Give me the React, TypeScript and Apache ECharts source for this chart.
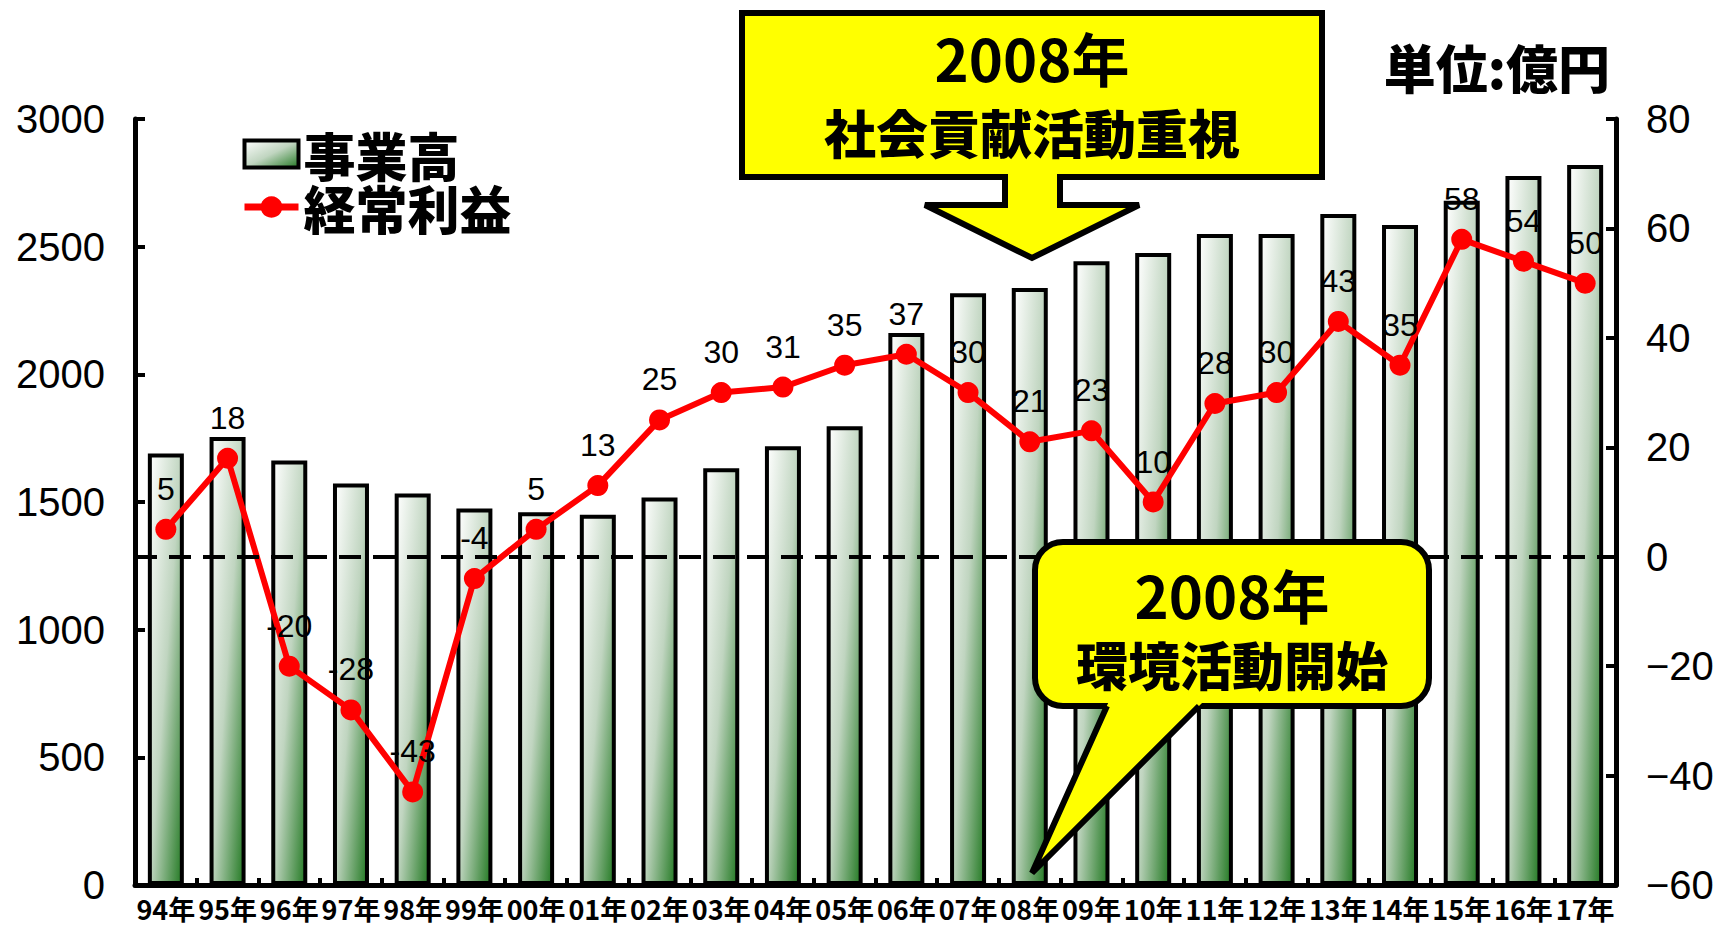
import React, { useEffect, useRef } from 'react';
import * as echarts from 'echarts';

const years = ['94年', '95年', '96年', '97年', '98年', '99年', '00年', '01年', '02年', '03年', '04年', '05年', '06年', '07年', '08年', '09年', '10年', '11年', '12年', '13年', '14年', '15年', '16年', '17年'];
const sales = [1690, 1755, 1663, 1572, 1533, 1475, 1460, 1450, 1518, 1632, 1718, 1797, 2162, 2318, 2338, 2443, 2475, 2550, 2550, 2628, 2585, 2680, 2777, 2820];
const profit = [5, 18, -20, -28, -43, -4, 5, 13, 25, 30, 31, 35, 37, 30, 21, 23, 10, 28, 30, 43, 35, 58, 54, 50];
const salesName = '事業高';
const profitName = '経常利益';
const leftMin = 0;
const leftMax = 3000;
const leftStep = 500;
const rightMin = -60;
const rightMax = 80;
const rightStep = 20;
const unitText = '単位:億円';
const topNote = ['2008年', '社会貢献活動重視'];
const bottomNote = ['2008年', '環境活動開始'];

const CJK = '"Noto Sans CJK JP", "Noto Sans", sans-serif';
const LAT = '"Liberation Sans", Arial, sans-serif';

export default function App() {
  const ref = useRef<HTMLDivElement>(null);
  useEffect(() => {
    const chart = echarts.init(ref.current!, null, { renderer: 'svg' });
    const barFill = new echarts.graphic.LinearGradient(0, 0, 1, 1, [
      { offset: 0, color: '#ffffff' },
      { offset: 0.5, color: '#c0d5c0' },
      { offset: 1, color: '#247a24' },
    ]);
    const yellow = '#ffff00';
    chart.setOption({
      animation: false,
      backgroundColor: '#ffffff',
      grid: { left: 135, right: 101, top: 119, bottom: 42, containLabel: false },
      legend: {
        orient: 'vertical',
        left: 241,
        top: 128,
        padding: 0,
        itemWidth: 54,
        itemHeight: 27,
        itemGap: 1,
        selectedMode: false,
        textStyle: { fontSize: 52, fontWeight: 900, fontFamily: CJK, color: '#000' },
        data: [
          { name: salesName, icon: 'rect', itemStyle: { borderColor: '#000', borderWidth: 4 } },
          { name: profitName, lineStyle: { width: 7, color: '#ff0000' }, itemStyle: { color: '#ff0000' } },
        ],
      },
      xAxis: {
        type: 'category',
        data: years,
        axisLine: { lineStyle: { color: '#000', width: 5 } },
        axisTick: { show: true, inside: true, length: 7, lineStyle: { color: '#000', width: 4 } },
        axisLabel: { interval: 0, fontSize: 27, fontWeight: 'bold', fontFamily: CJK, color: '#000', margin: 10 },
        splitLine: { show: false },
      },
      yAxis: [
        {
          type: 'value',
          min: leftMin,
          max: leftMax,
          interval: leftStep,
          axisLine: { show: true, lineStyle: { color: '#000', width: 5 } },
          axisTick: { show: true, inside: true, length: 10, lineStyle: { color: '#000', width: 4 } },
          axisLabel: { fontSize: 40, fontFamily: LAT, color: '#000', margin: 30, formatter: (v: number) => String(v) },
          splitLine: { show: false },
        },
        {
          type: 'value',
          position: 'right',
          min: rightMin,
          max: rightMax,
          interval: rightStep,
          axisLine: { show: true, lineStyle: { color: '#000', width: 5 } },
          axisTick: { show: true, inside: true, length: 10, lineStyle: { color: '#000', width: 4 } },
          axisLabel: {
            fontSize: 40,
            fontFamily: LAT,
            color: '#000',
            margin: 30,
            formatter: (v: number) => (v < 0 ? '\u2212' + Math.abs(v) : String(v)),
          },
          splitLine: { show: false },
        },
      ],
      series: [
        {
          name: salesName,
          type: 'bar',
          data: sales,
          barWidth: 36,
          itemStyle: { color: barFill, borderColor: '#000', borderWidth: 4 },
          emphasis: { disabled: true },
          z: 2,
        },
        {
          name: profitName,
          type: 'line',
          yAxisIndex: 1,
          data: profit,
          symbol: 'circle',
          symbolSize: 21,
          lineStyle: { color: '#ff0000', width: 6 },
          itemStyle: { color: '#ff0000' },
          label: { show: true, position: 'top', distance: 14, fontSize: 32, fontFamily: LAT, color: '#000' },
          emphasis: { disabled: true },
          markLine: {
            silent: true,
            symbol: ['none', 'none'],
            label: { show: false },
            lineStyle: { color: '#000', width: 4, type: [22, 12] },
            data: [{ yAxis: 0 }],
          },
          z: 3,
        },
      ],
      graphic: [
        {
          type: 'polygon',
          z: 100,
          shape: {
            points: [
              [742, 13], [1322, 13], [1322, 177], [1060, 177], [1060, 205], [1139, 205],
              [1032, 258], [925, 205], [1005, 205], [1005, 177], [742, 177],
            ],
          },
          style: { fill: yellow, stroke: '#000', lineWidth: 6, lineJoin: 'miter' },
        },
        {
          type: 'text', z: 101, x: 1032, y: 57,
          style: { text: topNote[0], fontSize: 58, fontWeight: 'bold', fontFamily: CJK, fill: '#000', align: 'center', verticalAlign: 'middle' },
        },
        {
          type: 'text', z: 101, x: 1032, y: 131,
          style: { text: topNote[1], fontSize: 52, fontWeight: 900, fontFamily: CJK, fill: '#000', align: 'center', verticalAlign: 'middle' },
        },
        {
          type: 'rect', z: 100,
          shape: { x: 1035, y: 542, width: 394, height: 164, r: 28 },
          style: { fill: yellow, stroke: '#000', lineWidth: 6 },
        },
        {
          type: 'polygon', z: 101,
          shape: { points: [[1114, 690], [1215, 690], [1032, 873]] },
          style: { fill: yellow, lineWidth: 0 },
        },
        {
          type: 'polyline', z: 102,
          shape: { points: [[1107, 706], [1032, 873], [1199, 706]] },
          style: { fill: null, stroke: '#000', lineWidth: 6, lineJoin: 'miter' },
        },
        {
          type: 'text', z: 103, x: 1232, y: 594,
          style: { text: bottomNote[0], fontSize: 58, fontWeight: 'bold', fontFamily: CJK, fill: '#000', align: 'center', verticalAlign: 'middle' },
        },
        {
          type: 'text', z: 103, x: 1232, y: 663,
          style: { text: bottomNote[1], fontSize: 52, fontWeight: 900, fontFamily: CJK, fill: '#000', align: 'center', verticalAlign: 'middle' },
        },
        {
          type: 'text', z: 103, x: 1610, y: 66,
          style: { text: unitText, fontSize: 52, fontWeight: 900, fontFamily: CJK, fill: '#000', align: 'right', verticalAlign: 'middle' },
        },
      ],
    });
    return () => chart.dispose();
  }, []);
  return (
    <div
      ref={ref}
      style={{ position: 'absolute', left: 0, top: 0, width: 1717, height: 927, background: '#fff' }}
    />
  );
}
